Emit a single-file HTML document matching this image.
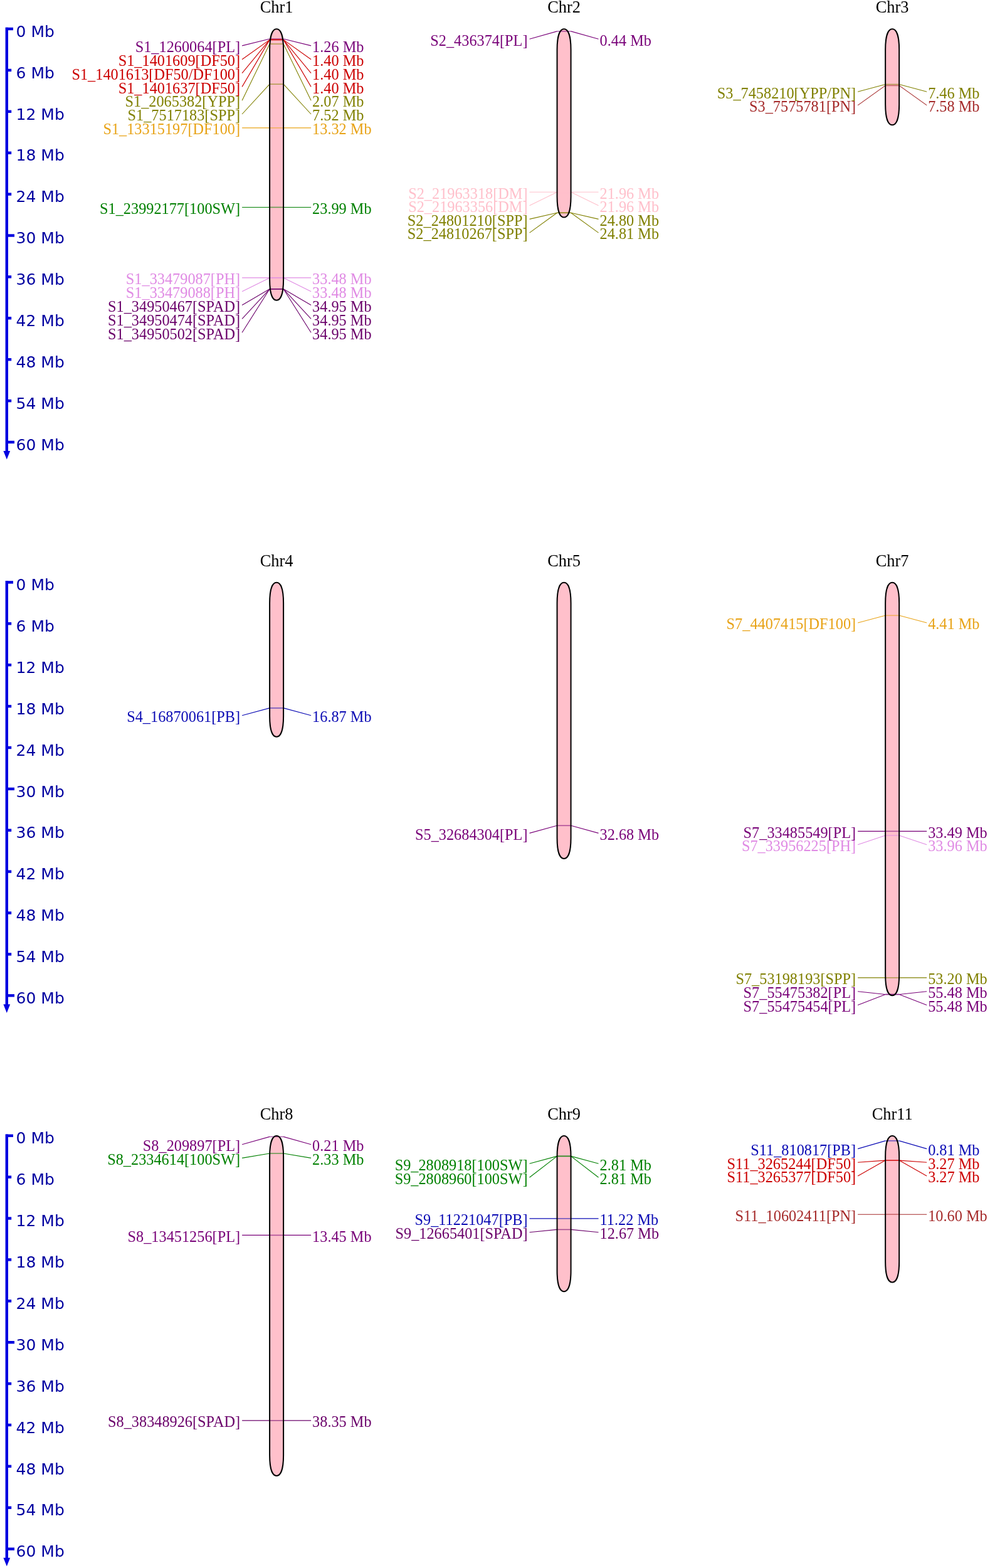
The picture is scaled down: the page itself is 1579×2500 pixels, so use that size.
<!DOCTYPE html>
<html><head><meta charset="utf-8"><title>Chromosome map</title>
<style>
html,body{margin:0;padding:0;background:#fff;}
svg{display:block;}
.ax{font-family:"DejaVu Sans",sans-serif;font-size:25px;fill:#0000a0;}
.ti{font-family:"Liberation Serif",serif;font-size:26.4px;fill:#000;text-anchor:middle;}
.lb text{font-family:"Liberation Serif",serif;font-size:24.3px;}
.ml line{stroke-width:1.1;fill:none;}
.ml line.in{stroke-width:1.6;stroke-opacity:0.6;}
</style></head>
<body>
<svg width="1579" height="2500" viewBox="0 0 1579 2500">
<rect width="1579" height="2500" fill="#fff"/>
<line x1="10.8" y1="43.75" x2="10.8" y2="720.91" stroke="#0000e0" stroke-width="4.4"/>
<polygon points="5.4,719 16.2,719 10.8,732.6" fill="#0000e0"/>
<line x1="9" y1="46.05" x2="21" y2="46.05" stroke="#0000e0" stroke-width="4.4"/>
<text x="25.6" y="58.75" class="ax">0 Mb</text>
<line x1="9" y1="111.94" x2="18.2" y2="111.94" stroke="#0000e0" stroke-width="4.4"/>
<text x="25.6" y="124.64" class="ax">6 Mb</text>
<line x1="9" y1="177.83" x2="18.2" y2="177.83" stroke="#0000e0" stroke-width="4.4"/>
<text x="25.6" y="190.53" class="ax">12 Mb</text>
<line x1="9" y1="243.72" x2="18.2" y2="243.72" stroke="#0000e0" stroke-width="4.4"/>
<text x="25.6" y="256.42" class="ax">18 Mb</text>
<line x1="9" y1="309.61" x2="18.2" y2="309.61" stroke="#0000e0" stroke-width="4.4"/>
<text x="25.6" y="322.31" class="ax">24 Mb</text>
<line x1="9" y1="375.5" x2="23" y2="375.5" stroke="#0000e0" stroke-width="4.4"/>
<text x="25.6" y="388.2" class="ax">30 Mb</text>
<line x1="9" y1="441.39" x2="18.2" y2="441.39" stroke="#0000e0" stroke-width="4.4"/>
<text x="25.6" y="454.09" class="ax">36 Mb</text>
<line x1="9" y1="507.28" x2="18.2" y2="507.28" stroke="#0000e0" stroke-width="4.4"/>
<text x="25.6" y="519.98" class="ax">42 Mb</text>
<line x1="9" y1="573.17" x2="18.2" y2="573.17" stroke="#0000e0" stroke-width="4.4"/>
<text x="25.6" y="585.87" class="ax">48 Mb</text>
<line x1="9" y1="639.06" x2="18.2" y2="639.06" stroke="#0000e0" stroke-width="4.4"/>
<text x="25.6" y="651.76" class="ax">54 Mb</text>
<line x1="9" y1="704.95" x2="23" y2="704.95" stroke="#0000e0" stroke-width="4.4"/>
<text x="25.6" y="717.65" class="ax">60 Mb</text>
<line x1="10.8" y1="926.1" x2="10.8" y2="1603.26" stroke="#0000e0" stroke-width="4.4"/>
<polygon points="5.4,1601.35 16.2,1601.35 10.8,1614.95" fill="#0000e0"/>
<line x1="9" y1="928.4" x2="21" y2="928.4" stroke="#0000e0" stroke-width="4.4"/>
<text x="25.6" y="941.1" class="ax">0 Mb</text>
<line x1="9" y1="994.29" x2="18.2" y2="994.29" stroke="#0000e0" stroke-width="4.4"/>
<text x="25.6" y="1006.99" class="ax">6 Mb</text>
<line x1="9" y1="1060.18" x2="18.2" y2="1060.18" stroke="#0000e0" stroke-width="4.4"/>
<text x="25.6" y="1072.88" class="ax">12 Mb</text>
<line x1="9" y1="1126.07" x2="18.2" y2="1126.07" stroke="#0000e0" stroke-width="4.4"/>
<text x="25.6" y="1138.77" class="ax">18 Mb</text>
<line x1="9" y1="1191.96" x2="18.2" y2="1191.96" stroke="#0000e0" stroke-width="4.4"/>
<text x="25.6" y="1204.66" class="ax">24 Mb</text>
<line x1="9" y1="1257.85" x2="23" y2="1257.85" stroke="#0000e0" stroke-width="4.4"/>
<text x="25.6" y="1270.55" class="ax">30 Mb</text>
<line x1="9" y1="1323.74" x2="18.2" y2="1323.74" stroke="#0000e0" stroke-width="4.4"/>
<text x="25.6" y="1336.44" class="ax">36 Mb</text>
<line x1="9" y1="1389.63" x2="18.2" y2="1389.63" stroke="#0000e0" stroke-width="4.4"/>
<text x="25.6" y="1402.33" class="ax">42 Mb</text>
<line x1="9" y1="1455.52" x2="18.2" y2="1455.52" stroke="#0000e0" stroke-width="4.4"/>
<text x="25.6" y="1468.22" class="ax">48 Mb</text>
<line x1="9" y1="1521.41" x2="18.2" y2="1521.41" stroke="#0000e0" stroke-width="4.4"/>
<text x="25.6" y="1534.11" class="ax">54 Mb</text>
<line x1="9" y1="1587.3" x2="23" y2="1587.3" stroke="#0000e0" stroke-width="4.4"/>
<text x="25.6" y="1600" class="ax">60 Mb</text>
<line x1="10.8" y1="1808.45" x2="10.8" y2="2485.61" stroke="#0000e0" stroke-width="4.4"/>
<polygon points="5.4,2483.7 16.2,2483.7 10.8,2497.3" fill="#0000e0"/>
<line x1="9" y1="1810.75" x2="21" y2="1810.75" stroke="#0000e0" stroke-width="4.4"/>
<text x="25.6" y="1823.45" class="ax">0 Mb</text>
<line x1="9" y1="1876.64" x2="18.2" y2="1876.64" stroke="#0000e0" stroke-width="4.4"/>
<text x="25.6" y="1889.34" class="ax">6 Mb</text>
<line x1="9" y1="1942.53" x2="18.2" y2="1942.53" stroke="#0000e0" stroke-width="4.4"/>
<text x="25.6" y="1955.23" class="ax">12 Mb</text>
<line x1="9" y1="2008.42" x2="18.2" y2="2008.42" stroke="#0000e0" stroke-width="4.4"/>
<text x="25.6" y="2021.12" class="ax">18 Mb</text>
<line x1="9" y1="2074.31" x2="18.2" y2="2074.31" stroke="#0000e0" stroke-width="4.4"/>
<text x="25.6" y="2087.01" class="ax">24 Mb</text>
<line x1="9" y1="2140.2" x2="23" y2="2140.2" stroke="#0000e0" stroke-width="4.4"/>
<text x="25.6" y="2152.9" class="ax">30 Mb</text>
<line x1="9" y1="2206.09" x2="18.2" y2="2206.09" stroke="#0000e0" stroke-width="4.4"/>
<text x="25.6" y="2218.79" class="ax">36 Mb</text>
<line x1="9" y1="2271.98" x2="18.2" y2="2271.98" stroke="#0000e0" stroke-width="4.4"/>
<text x="25.6" y="2284.68" class="ax">42 Mb</text>
<line x1="9" y1="2337.87" x2="18.2" y2="2337.87" stroke="#0000e0" stroke-width="4.4"/>
<text x="25.6" y="2350.57" class="ax">48 Mb</text>
<line x1="9" y1="2403.76" x2="18.2" y2="2403.76" stroke="#0000e0" stroke-width="4.4"/>
<text x="25.6" y="2416.46" class="ax">54 Mb</text>
<line x1="9" y1="2469.65" x2="23" y2="2469.65" stroke="#0000e0" stroke-width="4.4"/>
<text x="25.6" y="2482.35" class="ax">60 Mb</text>
<text x="441.1" y="20.2" class="ti">Chr1</text>
<path d="M430.1,79.3 C430.1,51.25 436.7,46.3 441.1,46.3 C445.5,46.3 452.1,51.25 452.1,79.3 L452.1,445.7 C452.1,473.75 445.5,478.7 441.1,478.7 C436.7,478.7 430.1,473.75 430.1,445.7 Z" fill="#ffc0cb" stroke="none"/>
<g class="ml"><line x1="430.1" y1="62" x2="452.1" y2="62" stroke="#780078" class="in"/>
<line x1="386.1" y1="72.9" x2="430.1" y2="62" stroke="#780078"/>
<line x1="452.1" y1="62" x2="496.1" y2="72.9" stroke="#780078"/>
<line x1="430.1" y1="63.4" x2="452.1" y2="63.4" stroke="#cc0000" class="in"/>
<line x1="386.1" y1="94.72" x2="430.1" y2="63.4" stroke="#cc0000"/>
<line x1="452.1" y1="63.4" x2="496.1" y2="94.72" stroke="#cc0000"/>
<line x1="430.1" y1="63.4" x2="452.1" y2="63.4" stroke="#cc0000" class="in"/>
<line x1="386.1" y1="116.54" x2="430.1" y2="63.4" stroke="#cc0000"/>
<line x1="452.1" y1="63.4" x2="496.1" y2="116.54" stroke="#cc0000"/>
<line x1="430.1" y1="63.4" x2="452.1" y2="63.4" stroke="#cc0000" class="in"/>
<line x1="386.1" y1="138.36" x2="430.1" y2="63.4" stroke="#cc0000"/>
<line x1="452.1" y1="63.4" x2="496.1" y2="138.36" stroke="#cc0000"/>
<line x1="430.1" y1="70.1" x2="452.1" y2="70.1" stroke="#808000" class="in"/>
<line x1="386.1" y1="160.18" x2="430.1" y2="70.1" stroke="#808000"/>
<line x1="452.1" y1="70.1" x2="496.1" y2="160.18" stroke="#808000"/>
<line x1="430.1" y1="134.2" x2="452.1" y2="134.2" stroke="#808000" class="in"/>
<line x1="386.1" y1="182" x2="430.1" y2="134.2" stroke="#808000"/>
<line x1="452.1" y1="134.2" x2="496.1" y2="182" stroke="#808000"/>
<line x1="430.1" y1="203.9" x2="452.1" y2="203.9" stroke="#e8a317" class="in"/>
<line x1="386.1" y1="203.9" x2="430.1" y2="203.9" stroke="#e8a317"/>
<line x1="452.1" y1="203.9" x2="496.1" y2="203.9" stroke="#e8a317"/>
<line x1="430.1" y1="330.5" x2="452.1" y2="330.5" stroke="#008000" class="in"/>
<line x1="386.1" y1="330.5" x2="430.1" y2="330.5" stroke="#008000"/>
<line x1="452.1" y1="330.5" x2="496.1" y2="330.5" stroke="#008000"/>
<line x1="430.1" y1="442.9" x2="452.1" y2="442.9" stroke="#e08be4" class="in"/>
<line x1="386.1" y1="442.9" x2="430.1" y2="442.9" stroke="#e08be4"/>
<line x1="452.1" y1="442.9" x2="496.1" y2="442.9" stroke="#e08be4"/>
<line x1="430.1" y1="442.9" x2="452.1" y2="442.9" stroke="#e08be4" class="in"/>
<line x1="386.1" y1="464.7" x2="430.1" y2="442.9" stroke="#e08be4"/>
<line x1="452.1" y1="442.9" x2="496.1" y2="464.7" stroke="#e08be4"/>
<line x1="430.1" y1="460.8" x2="452.1" y2="460.8" stroke="#6a006a" class="in"/>
<line x1="386.1" y1="486.5" x2="430.1" y2="460.8" stroke="#6a006a"/>
<line x1="452.1" y1="460.8" x2="496.1" y2="486.5" stroke="#6a006a"/>
<line x1="430.1" y1="460.8" x2="452.1" y2="460.8" stroke="#6a006a" class="in"/>
<line x1="386.1" y1="508.3" x2="430.1" y2="460.8" stroke="#6a006a"/>
<line x1="452.1" y1="460.8" x2="496.1" y2="508.3" stroke="#6a006a"/>
<line x1="430.1" y1="460.8" x2="452.1" y2="460.8" stroke="#6a006a" class="in"/>
<line x1="386.1" y1="530.2" x2="430.1" y2="460.8" stroke="#6a006a"/>
<line x1="452.1" y1="460.8" x2="496.1" y2="530.2" stroke="#6a006a"/></g>
<path d="M430.1,79.3 C430.1,51.25 436.7,46.3 441.1,46.3 C445.5,46.3 452.1,51.25 452.1,79.3 L452.1,445.7 C452.1,473.75 445.5,478.7 441.1,478.7 C436.7,478.7 430.1,473.75 430.1,445.7 Z" fill="none" stroke="#000" stroke-width="2.0"/>
<g class="lb"><text transform="translate(383.1,83.2) scale(1,1.0)" fill="#780078" text-anchor="end">S1_1260064[PL]</text>
<text transform="translate(498.1,83.2) scale(1,1.0)" fill="#780078">1.26 Mb</text>
<text transform="translate(383.1,105.02) scale(1,1.0)" fill="#cc0000" text-anchor="end">S1_1401609[DF50]</text>
<text transform="translate(498.1,105.02) scale(1,1.0)" fill="#cc0000">1.40 Mb</text>
<text transform="translate(383.1,126.84) scale(1,1.0)" fill="#cc0000" text-anchor="end">S1_1401613[DF50/DF100]</text>
<text transform="translate(498.1,126.84) scale(1,1.0)" fill="#cc0000">1.40 Mb</text>
<text transform="translate(383.1,148.66) scale(1,1.0)" fill="#cc0000" text-anchor="end">S1_1401637[DF50]</text>
<text transform="translate(498.1,148.66) scale(1,1.0)" fill="#cc0000">1.40 Mb</text>
<text transform="translate(383.1,170.48) scale(1,1.0)" fill="#808000" text-anchor="end">S1_2065382[YPP]</text>
<text transform="translate(498.1,170.48) scale(1,1.0)" fill="#808000">2.07 Mb</text>
<text transform="translate(383.1,192.3) scale(1,1.0)" fill="#808000" text-anchor="end">S1_7517183[SPP]</text>
<text transform="translate(498.1,192.3) scale(1,1.0)" fill="#808000">7.52 Mb</text>
<text transform="translate(383.1,214.2) scale(1,1.0)" fill="#e8a317" text-anchor="end">S1_13315197[DF100]</text>
<text transform="translate(498.1,214.2) scale(1,1.0)" fill="#e8a317">13.32 Mb</text>
<text transform="translate(383.1,340.8) scale(1,1.0)" fill="#008000" text-anchor="end">S1_23992177[100SW]</text>
<text transform="translate(498.1,340.8) scale(1,1.0)" fill="#008000">23.99 Mb</text>
<text transform="translate(383.1,453.2) scale(1,1.0)" fill="#e08be4" text-anchor="end">S1_33479087[PH]</text>
<text transform="translate(498.1,453.2) scale(1,1.0)" fill="#e08be4">33.48 Mb</text>
<text transform="translate(383.1,475) scale(1,1.0)" fill="#e08be4" text-anchor="end">S1_33479088[PH]</text>
<text transform="translate(498.1,475) scale(1,1.0)" fill="#e08be4">33.48 Mb</text>
<text transform="translate(383.1,496.8) scale(1,1.0)" fill="#6a006a" text-anchor="end">S1_34950467[SPAD]</text>
<text transform="translate(498.1,496.8) scale(1,1.0)" fill="#6a006a">34.95 Mb</text>
<text transform="translate(383.1,518.6) scale(1,1.0)" fill="#6a006a" text-anchor="end">S1_34950474[SPAD]</text>
<text transform="translate(498.1,518.6) scale(1,1.0)" fill="#6a006a">34.95 Mb</text>
<text transform="translate(383.1,540.5) scale(1,1.0)" fill="#6a006a" text-anchor="end">S1_34950502[SPAD]</text>
<text transform="translate(498.1,540.5) scale(1,1.0)" fill="#6a006a">34.95 Mb</text></g>
<text x="899.55" y="20.2" class="ti">Chr2</text>
<path d="M888.55,79.3 C888.55,51.25 895.15,46.3 899.55,46.3 C903.95,46.3 910.55,51.25 910.55,79.3 L910.55,313.6 C910.55,341.65 903.95,346.6 899.55,346.6 C895.15,346.6 888.55,341.65 888.55,313.6 Z" fill="#ffc0cb" stroke="none"/>
<g class="ml"><line x1="888.55" y1="49.9" x2="910.55" y2="49.9" stroke="#780078" class="in"/>
<line x1="844.55" y1="62.3" x2="888.55" y2="49.9" stroke="#780078"/>
<line x1="910.55" y1="49.9" x2="954.55" y2="62.3" stroke="#780078"/>
<line x1="888.55" y1="306.25" x2="910.55" y2="306.25" stroke="#ffc0cb" class="in"/>
<line x1="844.55" y1="306.25" x2="888.55" y2="306.25" stroke="#ffc0cb"/>
<line x1="910.55" y1="306.25" x2="954.55" y2="306.25" stroke="#ffc0cb"/>
<line x1="888.55" y1="306.25" x2="910.55" y2="306.25" stroke="#ffc0cb" class="in"/>
<line x1="844.55" y1="327.7" x2="888.55" y2="306.25" stroke="#ffc0cb"/>
<line x1="910.55" y1="306.25" x2="954.55" y2="327.7" stroke="#ffc0cb"/>
<line x1="888.55" y1="339.3" x2="910.55" y2="339.3" stroke="#808000" class="in"/>
<line x1="844.55" y1="349.4" x2="888.55" y2="339.3" stroke="#808000"/>
<line x1="910.55" y1="339.3" x2="954.55" y2="349.4" stroke="#808000"/>
<line x1="888.55" y1="339.3" x2="910.55" y2="339.3" stroke="#808000" class="in"/>
<line x1="844.55" y1="371.1" x2="888.55" y2="339.3" stroke="#808000"/>
<line x1="910.55" y1="339.3" x2="954.55" y2="371.1" stroke="#808000"/></g>
<path d="M888.55,79.3 C888.55,51.25 895.15,46.3 899.55,46.3 C903.95,46.3 910.55,51.25 910.55,79.3 L910.55,313.6 C910.55,341.65 903.95,346.6 899.55,346.6 C895.15,346.6 888.55,341.65 888.55,313.6 Z" fill="none" stroke="#000" stroke-width="2.0"/>
<g class="lb"><text transform="translate(841.55,72.6) scale(1,1.0)" fill="#780078" text-anchor="end">S2_436374[PL]</text>
<text transform="translate(956.55,72.6) scale(1,1.0)" fill="#780078">0.44 Mb</text>
<text transform="translate(841.55,316.55) scale(1,1.0)" fill="#ffc0cb" text-anchor="end">S2_21963318[DM]</text>
<text transform="translate(956.55,316.55) scale(1,1.0)" fill="#ffc0cb">21.96 Mb</text>
<text transform="translate(841.55,338) scale(1,1.0)" fill="#ffc0cb" text-anchor="end">S2_21963356[DM]</text>
<text transform="translate(956.55,338) scale(1,1.0)" fill="#ffc0cb">21.96 Mb</text>
<text transform="translate(841.55,359.7) scale(1,1.0)" fill="#808000" text-anchor="end">S2_24801210[SPP]</text>
<text transform="translate(956.55,359.7) scale(1,1.0)" fill="#808000">24.80 Mb</text>
<text transform="translate(841.55,381.4) scale(1,1.0)" fill="#808000" text-anchor="end">S2_24810267[SPP]</text>
<text transform="translate(956.55,381.4) scale(1,1.0)" fill="#808000">24.81 Mb</text></g>
<text x="1423.15" y="20.2" class="ti">Chr3</text>
<path d="M1412.15,79.3 C1412.15,51.25 1418.75,46.3 1423.15,46.3 C1427.55,46.3 1434.15,51.25 1434.15,79.3 L1434.15,166.3 C1434.15,194.35 1427.55,199.3 1423.15,199.3 C1418.75,199.3 1412.15,194.35 1412.15,166.3 Z" fill="#ffc0cb" stroke="none"/>
<g class="ml"><line x1="1412.15" y1="134.5" x2="1434.15" y2="134.5" stroke="#808000" class="in"/>
<line x1="1368.15" y1="146.2" x2="1412.15" y2="134.5" stroke="#808000"/>
<line x1="1434.15" y1="134.5" x2="1478.15" y2="146.2" stroke="#808000"/>
<line x1="1412.15" y1="136.4" x2="1434.15" y2="136.4" stroke="#a52a2a" class="in"/>
<line x1="1368.15" y1="167.9" x2="1412.15" y2="136.4" stroke="#a52a2a"/>
<line x1="1434.15" y1="136.4" x2="1478.15" y2="167.9" stroke="#a52a2a"/></g>
<path d="M1412.15,79.3 C1412.15,51.25 1418.75,46.3 1423.15,46.3 C1427.55,46.3 1434.15,51.25 1434.15,79.3 L1434.15,166.3 C1434.15,194.35 1427.55,199.3 1423.15,199.3 C1418.75,199.3 1412.15,194.35 1412.15,166.3 Z" fill="none" stroke="#000" stroke-width="2.0"/>
<g class="lb"><text transform="translate(1365.15,156.5) scale(1,1.0)" fill="#808000" text-anchor="end">S3_7458210[YPP/PN]</text>
<text transform="translate(1480.15,156.5) scale(1,1.0)" fill="#808000">7.46 Mb</text>
<text transform="translate(1365.15,178.2) scale(1,1.0)" fill="#a52a2a" text-anchor="end">S3_7575781[PN]</text>
<text transform="translate(1480.15,178.2) scale(1,1.0)" fill="#a52a2a">7.58 Mb</text></g>
<text x="441.1" y="902.55" class="ti">Chr4</text>
<path d="M430.1,961.65 C430.1,933.6 436.7,928.65 441.1,928.65 C445.5,928.65 452.1,933.6 452.1,961.65 L452.1,1141.7 C452.1,1169.75 445.5,1174.7 441.1,1174.7 C436.7,1174.7 430.1,1169.75 430.1,1141.7 Z" fill="#ffc0cb" stroke="none"/>
<g class="ml"><line x1="430.1" y1="1128.9" x2="452.1" y2="1128.9" stroke="#0a0ab4" class="in"/>
<line x1="386.1" y1="1140.8" x2="430.1" y2="1128.9" stroke="#0a0ab4"/>
<line x1="452.1" y1="1128.9" x2="496.1" y2="1140.8" stroke="#0a0ab4"/></g>
<path d="M430.1,961.65 C430.1,933.6 436.7,928.65 441.1,928.65 C445.5,928.65 452.1,933.6 452.1,961.65 L452.1,1141.7 C452.1,1169.75 445.5,1174.7 441.1,1174.7 C436.7,1174.7 430.1,1169.75 430.1,1141.7 Z" fill="none" stroke="#000" stroke-width="2.0"/>
<g class="lb"><text transform="translate(383.1,1151.1) scale(1,1.0)" fill="#0a0ab4" text-anchor="end">S4_16870061[PB]</text>
<text transform="translate(498.1,1151.1) scale(1,1.0)" fill="#0a0ab4">16.87 Mb</text></g>
<text x="899.55" y="902.55" class="ti">Chr5</text>
<path d="M888.55,961.65 C888.55,933.6 895.15,928.65 899.55,928.65 C903.95,928.65 910.55,933.6 910.55,961.65 L910.55,1336 C910.55,1364.05 903.95,1369 899.55,1369 C895.15,1369 888.55,1364.05 888.55,1336 Z" fill="#ffc0cb" stroke="none"/>
<g class="ml"><line x1="888.55" y1="1316.3" x2="910.55" y2="1316.3" stroke="#780078" class="in"/>
<line x1="844.55" y1="1328.4" x2="888.55" y2="1316.3" stroke="#780078"/>
<line x1="910.55" y1="1316.3" x2="954.55" y2="1328.4" stroke="#780078"/></g>
<path d="M888.55,961.65 C888.55,933.6 895.15,928.65 899.55,928.65 C903.95,928.65 910.55,933.6 910.55,961.65 L910.55,1336 C910.55,1364.05 903.95,1369 899.55,1369 C895.15,1369 888.55,1364.05 888.55,1336 Z" fill="none" stroke="#000" stroke-width="2.0"/>
<g class="lb"><text transform="translate(841.55,1338.7) scale(1,1.0)" fill="#780078" text-anchor="end">S5_32684304[PL]</text>
<text transform="translate(956.55,1338.7) scale(1,1.0)" fill="#780078">32.68 Mb</text></g>
<text x="1423.15" y="902.55" class="ti">Chr7</text>
<path d="M1412.15,961.65 C1412.15,933.6 1418.75,928.65 1423.15,928.65 C1427.55,928.65 1434.15,933.6 1434.15,961.65 L1434.15,1554.2 C1434.15,1582.25 1427.55,1587.2 1423.15,1587.2 C1418.75,1587.2 1412.15,1582.25 1412.15,1554.2 Z" fill="#ffc0cb" stroke="none"/>
<g class="ml"><line x1="1412.15" y1="981.3" x2="1434.15" y2="981.3" stroke="#e8a317" class="in"/>
<line x1="1368.15" y1="993" x2="1412.15" y2="981.3" stroke="#e8a317"/>
<line x1="1434.15" y1="981.3" x2="1478.15" y2="993" stroke="#e8a317"/>
<line x1="1412.15" y1="1325.35" x2="1434.15" y2="1325.35" stroke="#780078" class="in"/>
<line x1="1368.15" y1="1325.35" x2="1412.15" y2="1325.35" stroke="#780078"/>
<line x1="1434.15" y1="1325.35" x2="1478.15" y2="1325.35" stroke="#780078"/>
<line x1="1412.15" y1="1332" x2="1434.15" y2="1332" stroke="#e08be4" class="in"/>
<line x1="1368.15" y1="1346.75" x2="1412.15" y2="1332" stroke="#e08be4"/>
<line x1="1434.15" y1="1332" x2="1478.15" y2="1346.75" stroke="#e08be4"/>
<line x1="1412.15" y1="1558.9" x2="1434.15" y2="1558.9" stroke="#808000" class="in"/>
<line x1="1368.15" y1="1558.9" x2="1412.15" y2="1558.9" stroke="#808000"/>
<line x1="1434.15" y1="1558.9" x2="1478.15" y2="1558.9" stroke="#808000"/>
<line x1="1412.15" y1="1585.5" x2="1434.15" y2="1585.5" stroke="#780078" class="in"/>
<line x1="1368.15" y1="1580.7" x2="1412.15" y2="1585.5" stroke="#780078"/>
<line x1="1434.15" y1="1585.5" x2="1478.15" y2="1580.7" stroke="#780078"/>
<line x1="1412.15" y1="1585.5" x2="1434.15" y2="1585.5" stroke="#780078" class="in"/>
<line x1="1368.15" y1="1602.4" x2="1412.15" y2="1585.5" stroke="#780078"/>
<line x1="1434.15" y1="1585.5" x2="1478.15" y2="1602.4" stroke="#780078"/></g>
<path d="M1412.15,961.65 C1412.15,933.6 1418.75,928.65 1423.15,928.65 C1427.55,928.65 1434.15,933.6 1434.15,961.65 L1434.15,1554.2 C1434.15,1582.25 1427.55,1587.2 1423.15,1587.2 C1418.75,1587.2 1412.15,1582.25 1412.15,1554.2 Z" fill="none" stroke="#000" stroke-width="2.0"/>
<g class="lb"><text transform="translate(1365.15,1003.3) scale(1,1.0)" fill="#e8a317" text-anchor="end">S7_4407415[DF100]</text>
<text transform="translate(1480.15,1003.3) scale(1,1.0)" fill="#e8a317">4.41 Mb</text>
<text transform="translate(1365.15,1335.65) scale(1,1.0)" fill="#780078" text-anchor="end">S7_33485549[PL]</text>
<text transform="translate(1480.15,1335.65) scale(1,1.0)" fill="#780078">33.49 Mb</text>
<text transform="translate(1365.15,1357.05) scale(1,1.0)" fill="#e08be4" text-anchor="end">S7_33956225[PH]</text>
<text transform="translate(1480.15,1357.05) scale(1,1.0)" fill="#e08be4">33.96 Mb</text>
<text transform="translate(1365.15,1569.2) scale(1,1.0)" fill="#808000" text-anchor="end">S7_53198193[SPP]</text>
<text transform="translate(1480.15,1569.2) scale(1,1.0)" fill="#808000">53.20 Mb</text>
<text transform="translate(1365.15,1591) scale(1,1.0)" fill="#780078" text-anchor="end">S7_55475382[PL]</text>
<text transform="translate(1480.15,1591) scale(1,1.0)" fill="#780078">55.48 Mb</text>
<text transform="translate(1365.15,1612.7) scale(1,1.0)" fill="#780078" text-anchor="end">S7_55475454[PL]</text>
<text transform="translate(1480.15,1612.7) scale(1,1.0)" fill="#780078">55.48 Mb</text></g>
<text x="441.1" y="1784.9" class="ti">Chr8</text>
<path d="M430.1,1844 C430.1,1815.95 436.7,1811 441.1,1811 C445.5,1811 452.1,1815.95 452.1,1844 L452.1,2319.9 C452.1,2347.95 445.5,2352.9 441.1,2352.9 C436.7,2352.9 430.1,2347.95 430.1,2319.9 Z" fill="#ffc0cb" stroke="none"/>
<g class="ml"><line x1="430.1" y1="1812.4" x2="452.1" y2="1812.4" stroke="#780078" class="in"/>
<line x1="386.1" y1="1824.8" x2="430.1" y2="1812.4" stroke="#780078"/>
<line x1="452.1" y1="1812.4" x2="496.1" y2="1824.8" stroke="#780078"/>
<line x1="430.1" y1="1839" x2="452.1" y2="1839" stroke="#008000" class="in"/>
<line x1="386.1" y1="1846.4" x2="430.1" y2="1839" stroke="#008000"/>
<line x1="452.1" y1="1839" x2="496.1" y2="1846.4" stroke="#008000"/>
<line x1="430.1" y1="1969.4" x2="452.1" y2="1969.4" stroke="#780078" class="in"/>
<line x1="386.1" y1="1969.4" x2="430.1" y2="1969.4" stroke="#780078"/>
<line x1="452.1" y1="1969.4" x2="496.1" y2="1969.4" stroke="#780078"/>
<line x1="430.1" y1="2264.9" x2="452.1" y2="2264.9" stroke="#6a006a" class="in"/>
<line x1="386.1" y1="2264.9" x2="430.1" y2="2264.9" stroke="#6a006a"/>
<line x1="452.1" y1="2264.9" x2="496.1" y2="2264.9" stroke="#6a006a"/></g>
<path d="M430.1,1844 C430.1,1815.95 436.7,1811 441.1,1811 C445.5,1811 452.1,1815.95 452.1,1844 L452.1,2319.9 C452.1,2347.95 445.5,2352.9 441.1,2352.9 C436.7,2352.9 430.1,2347.95 430.1,2319.9 Z" fill="none" stroke="#000" stroke-width="2.0"/>
<g class="lb"><text transform="translate(383.1,1835.1) scale(1,1.0)" fill="#780078" text-anchor="end">S8_209897[PL]</text>
<text transform="translate(498.1,1835.1) scale(1,1.0)" fill="#780078">0.21 Mb</text>
<text transform="translate(383.1,1856.7) scale(1,1.0)" fill="#008000" text-anchor="end">S8_2334614[100SW]</text>
<text transform="translate(498.1,1856.7) scale(1,1.0)" fill="#008000">2.33 Mb</text>
<text transform="translate(383.1,1979.7) scale(1,1.0)" fill="#780078" text-anchor="end">S8_13451256[PL]</text>
<text transform="translate(498.1,1979.7) scale(1,1.0)" fill="#780078">13.45 Mb</text>
<text transform="translate(383.1,2275.2) scale(1,1.0)" fill="#6a006a" text-anchor="end">S8_38348926[SPAD]</text>
<text transform="translate(498.1,2275.2) scale(1,1.0)" fill="#6a006a">38.35 Mb</text></g>
<text x="899.55" y="1784.9" class="ti">Chr9</text>
<path d="M888.55,1844 C888.55,1815.95 895.15,1811 899.55,1811 C903.95,1811 910.55,1815.95 910.55,1844 L910.55,2026.2 C910.55,2054.25 903.95,2059.2 899.55,2059.2 C895.15,2059.2 888.55,2054.25 888.55,2026.2 Z" fill="#ffc0cb" stroke="none"/>
<g class="ml"><line x1="888.55" y1="1843.4" x2="910.55" y2="1843.4" stroke="#008000" class="in"/>
<line x1="844.55" y1="1855.2" x2="888.55" y2="1843.4" stroke="#008000"/>
<line x1="910.55" y1="1843.4" x2="954.55" y2="1855.2" stroke="#008000"/>
<line x1="888.55" y1="1843.4" x2="910.55" y2="1843.4" stroke="#008000" class="in"/>
<line x1="844.55" y1="1877.3" x2="888.55" y2="1843.4" stroke="#008000"/>
<line x1="910.55" y1="1843.4" x2="954.55" y2="1877.3" stroke="#008000"/>
<line x1="888.55" y1="1942.9" x2="910.55" y2="1942.9" stroke="#0a0ab4" class="in"/>
<line x1="844.55" y1="1942.9" x2="888.55" y2="1942.9" stroke="#0a0ab4"/>
<line x1="910.55" y1="1942.9" x2="954.55" y2="1942.9" stroke="#0a0ab4"/>
<line x1="888.55" y1="1960.4" x2="910.55" y2="1960.4" stroke="#6a006a" class="in"/>
<line x1="844.55" y1="1964.7" x2="888.55" y2="1960.4" stroke="#6a006a"/>
<line x1="910.55" y1="1960.4" x2="954.55" y2="1964.7" stroke="#6a006a"/></g>
<path d="M888.55,1844 C888.55,1815.95 895.15,1811 899.55,1811 C903.95,1811 910.55,1815.95 910.55,1844 L910.55,2026.2 C910.55,2054.25 903.95,2059.2 899.55,2059.2 C895.15,2059.2 888.55,2054.25 888.55,2026.2 Z" fill="none" stroke="#000" stroke-width="2.0"/>
<g class="lb"><text transform="translate(841.55,1865.5) scale(1,1.0)" fill="#008000" text-anchor="end">S9_2808918[100SW]</text>
<text transform="translate(956.55,1865.5) scale(1,1.0)" fill="#008000">2.81 Mb</text>
<text transform="translate(841.55,1887.6) scale(1,1.0)" fill="#008000" text-anchor="end">S9_2808960[100SW]</text>
<text transform="translate(956.55,1887.6) scale(1,1.0)" fill="#008000">2.81 Mb</text>
<text transform="translate(841.55,1953.2) scale(1,1.0)" fill="#0a0ab4" text-anchor="end">S9_11221047[PB]</text>
<text transform="translate(956.55,1953.2) scale(1,1.0)" fill="#0a0ab4">11.22 Mb</text>
<text transform="translate(841.55,1975) scale(1,1.0)" fill="#6a006a" text-anchor="end">S9_12665401[SPAD]</text>
<text transform="translate(956.55,1975) scale(1,1.0)" fill="#6a006a">12.67 Mb</text></g>
<text x="1423.15" y="1784.9" class="ti">Chr11</text>
<path d="M1412.15,1844 C1412.15,1815.95 1418.75,1811 1423.15,1811 C1427.55,1811 1434.15,1815.95 1434.15,1844 L1434.15,2011.5 C1434.15,2039.55 1427.55,2044.5 1423.15,2044.5 C1418.75,2044.5 1412.15,2039.55 1412.15,2011.5 Z" fill="#ffc0cb" stroke="none"/>
<g class="ml"><line x1="1412.15" y1="1818.9" x2="1434.15" y2="1818.9" stroke="#0a0ab4" class="in"/>
<line x1="1368.15" y1="1831.6" x2="1412.15" y2="1818.9" stroke="#0a0ab4"/>
<line x1="1434.15" y1="1818.9" x2="1478.15" y2="1831.6" stroke="#0a0ab4"/>
<line x1="1412.15" y1="1850.1" x2="1434.15" y2="1850.1" stroke="#cc0000" class="in"/>
<line x1="1368.15" y1="1853.3" x2="1412.15" y2="1850.1" stroke="#cc0000"/>
<line x1="1434.15" y1="1850.1" x2="1478.15" y2="1853.3" stroke="#cc0000"/>
<line x1="1412.15" y1="1850.1" x2="1434.15" y2="1850.1" stroke="#cc0000" class="in"/>
<line x1="1368.15" y1="1875" x2="1412.15" y2="1850.1" stroke="#cc0000"/>
<line x1="1434.15" y1="1850.1" x2="1478.15" y2="1875" stroke="#cc0000"/>
<line x1="1412.15" y1="1936.2" x2="1434.15" y2="1936.2" stroke="#a52a2a" class="in"/>
<line x1="1368.15" y1="1936.2" x2="1412.15" y2="1936.2" stroke="#a52a2a"/>
<line x1="1434.15" y1="1936.2" x2="1478.15" y2="1936.2" stroke="#a52a2a"/></g>
<path d="M1412.15,1844 C1412.15,1815.95 1418.75,1811 1423.15,1811 C1427.55,1811 1434.15,1815.95 1434.15,1844 L1434.15,2011.5 C1434.15,2039.55 1427.55,2044.5 1423.15,2044.5 C1418.75,2044.5 1412.15,2039.55 1412.15,2011.5 Z" fill="none" stroke="#000" stroke-width="2.0"/>
<g class="lb"><text transform="translate(1365.15,1841.9) scale(1,1.0)" fill="#0a0ab4" text-anchor="end">S11_810817[PB]</text>
<text transform="translate(1480.15,1841.9) scale(1,1.0)" fill="#0a0ab4">0.81 Mb</text>
<text transform="translate(1365.15,1863.6) scale(1,1.0)" fill="#cc0000" text-anchor="end">S11_3265244[DF50]</text>
<text transform="translate(1480.15,1863.6) scale(1,1.0)" fill="#cc0000">3.27 Mb</text>
<text transform="translate(1365.15,1885.3) scale(1,1.0)" fill="#cc0000" text-anchor="end">S11_3265377[DF50]</text>
<text transform="translate(1480.15,1885.3) scale(1,1.0)" fill="#cc0000">3.27 Mb</text>
<text transform="translate(1365.15,1946.5) scale(1,1.0)" fill="#a52a2a" text-anchor="end">S11_10602411[PN]</text>
<text transform="translate(1480.15,1946.5) scale(1,1.0)" fill="#a52a2a">10.60 Mb</text></g>
</svg>
</body></html>
